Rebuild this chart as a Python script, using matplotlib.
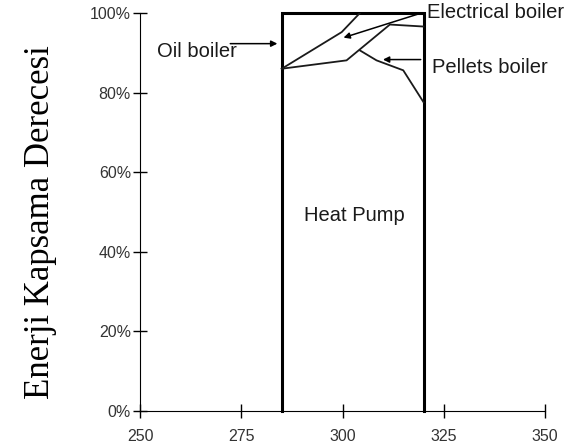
import matplotlib
matplotlib.use('Agg')
import matplotlib.pyplot as plt

# supply temperature axis and coverage (%)
box_x = [285, 285, 320, 320]
box_y = [0, 100, 100, 0]

upper_x = [285, 299.8, 304.3]
upper_y = [86, 95.2, 100]

mid_x = [285, 301, 311.7, 320]
mid_y = [86, 88.1, 97.1, 96.6]

pellet_x = [304.3, 308.4, 315, 320]
pellet_y = [90.6, 88.1, 85.6, 77.6]

x_ticks = [250, 275, 300, 325, 350]
y_ticks = [0, 20, 40, 60, 80, 100]

plt.rcParams['font.family'] = ['Liberation Sans', 'DejaVu Sans']

fig = plt.figure(figsize=(5.78, 4.47), dpi=100)
ax = fig.add_axes([140 / 578, 1 - 411 / 447, 405 / 578, 398 / 447])

ax.plot(box_x, box_y, color='black', lw=2.2, solid_joinstyle='miter', clip_on=False)
ax.plot(upper_x, upper_y, color='#1a1a1a', lw=1.3)
ax.plot(mid_x, mid_y, color='#1a1a1a', lw=1.3)
ax.plot(pellet_x, pellet_y, color='#1a1a1a', lw=1.3)

arrow = dict(arrowstyle='-|>', color='black', lw=1.1, mutation_scale=9)
ax.annotate('', xy=(284.6, 92.3), xytext=(271.6, 92.3), arrowprops=arrow)
ax.annotate('', xy=(299.6, 93.6), xytext=(319.5, 100), arrowprops=arrow)
ax.annotate('', xy=(309.3, 88.3), xytext=(320, 88.3), arrowprops=arrow)

tkw = dict(fontsize=14.5, color='#1a1a1a')
ax.text(254.2, 90.4, 'Oil boiler', ha='left', va='center', **tkw)
ax.text(320.9, 100.1, 'Electrical boiler', ha='left', va='center', **tkw)
ax.text(322.1, 86.3, 'Pellets boiler', ha='left', va='center', **tkw)
ax.text(303, 49.2, 'Heat Pump', ha='center', va='center', **tkw)

ax.set_xlim(250, 350)
ax.set_ylim(0, 100)
ax.set_xticks(x_ticks)
ax.set_yticks(y_ticks)
ax.set_yticklabels([f'{v}%' for v in y_ticks])
ax.tick_params(direction='inout', length=10, width=1, labelsize=11.5, labelcolor='#333333')
ax.tick_params(axis='x', pad=8)
ax.tick_params(axis='y', pad=1.5)
ax.spines['top'].set_visible(False)
ax.spines['right'].set_visible(False)

fig.text(41 / 578, 0.503, 'Enerji Kapsama Derecesi', rotation=90, ha='center', va='center',
         fontsize=25, family='Liberation Serif')

fig.savefig('out.png', dpi=100)
